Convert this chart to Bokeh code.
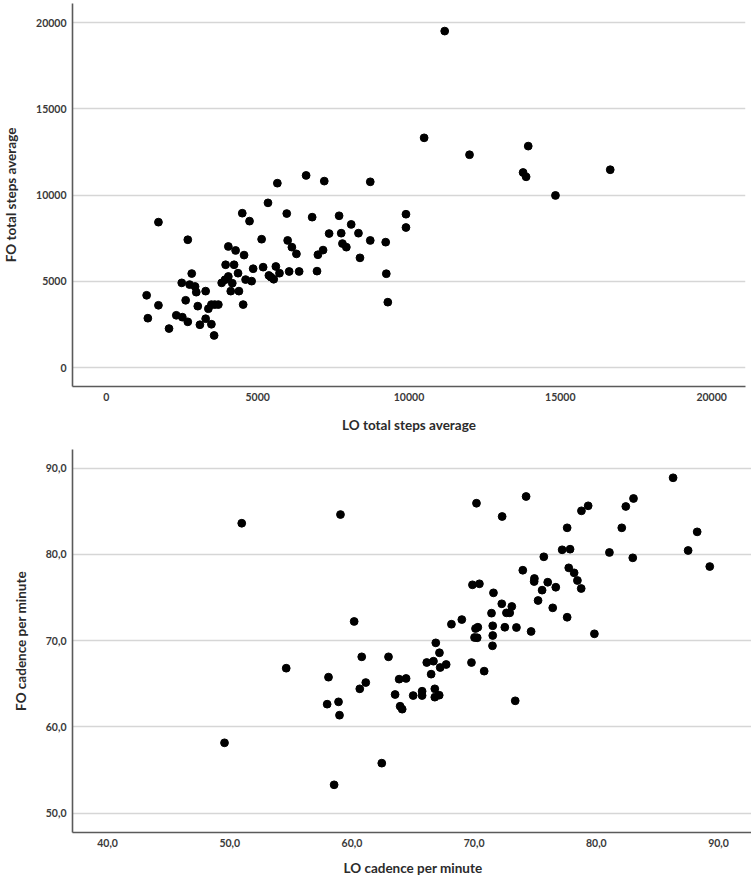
from bokeh.plotting import figure
from bokeh.layouts import column
from bokeh.models import FixedTicker, CustomJSTickFormatter, Range1d
from bokeh.embed import file_html
from bokeh.resources import INLINE

# Total steps per day: LO (x) vs FO (y)
lo_steps = [1330, 1370, 1720, 1720, 2070, 2310, 2510, 2490, 2620, 2690, 2690, 2820,
            2750, 2930, 2970, 3020, 3090, 3280, 3280, 3370, 3470, 3470, 3560, 3580,
            3700, 3810, 3940, 3920, 4030, 4030, 4110, 4160, 4220, 4270, 4350, 4380,
            4490, 4520, 4550, 4600, 4730, 4800, 4850, 5130, 5180, 5340, 5370, 5440,
            5530, 5600, 5650, 5720, 5960, 5990, 6040, 6130, 6280, 6370, 6600, 6800,
            6960, 6990, 7160, 7200, 7360, 7690, 7760, 7800, 7930, 8090, 8330, 8380,
            8720, 8720, 9230, 9250, 9300, 9900, 9900, 10500, 11180, 12000, 13770,
            13870, 13940, 14840, 16650]
fo_steps = [4190, 2860, 8430, 3610, 2260, 3030, 2920, 4910, 3900, 7410, 2650, 5450,
            4810, 4700, 4370, 3560, 2480, 4430, 2830, 3410, 3650, 2510, 1860, 3650,
            3650, 4910, 5960, 5090, 7020, 5280, 4430, 4890, 5960, 6790, 5470, 4430,
            8950, 3650, 6520, 5100, 8490, 5010, 5730, 7440, 5820, 9550, 5340, 5240,
            5120, 5860, 10690, 5470, 8930, 7370, 5570, 6980, 6590, 5570, 11140, 8720,
            5590, 6540, 6810, 10810, 7770, 8800, 7790, 7190, 6980, 8300, 7790, 6360,
            10770, 7370, 7270, 5440, 3790, 8890, 8120, 13320, 19510, 12340, 11310,
            11060, 12840, 9980, 11470]
steps_ticks = [0, 5000, 10000, 15000, 20000]

# Cadence per minute: LO (x) vs FO (y)
lo_cadence = [50.98, 59.06, 60.18, 54.62, 58.08, 60.80, 62.99, 61.13, 60.64, 57.97,
              58.90, 58.98, 49.57, 62.44, 58.54, 63.53, 63.86, 64.43, 63.94, 64.11,
              65.01, 65.74, 65.74, 66.12, 66.67, 66.48, 66.86, 67.16, 67.22, 67.71,
              66.78, 66.78, 67.14, 68.14, 68.99, 69.78, 69.86, 70.43, 70.19, 70.11,
              70.30, 70.03, 70.25, 70.82, 71.42, 71.58, 71.52, 71.52, 71.50, 72.29,
              72.26, 72.64, 72.91, 73.08, 72.51, 73.46, 73.36, 73.98, 74.25, 74.66,
              74.93, 74.91, 75.23, 75.56, 75.70, 76.02, 76.43, 76.68, 77.20, 77.61,
              77.61, 77.74, 77.85, 78.18, 78.45, 78.76, 78.78, 79.33, 79.84, 81.07,
              82.08, 82.41, 82.98, 83.04, 86.28, 87.51, 88.25, 89.28]
fo_cadence = [83.62, 84.63, 72.23, 66.81, 65.77, 68.13, 68.13, 65.15, 64.42, 62.64,
              62.91, 61.36, 58.16, 55.80, 53.29, 63.76, 65.54, 65.62, 62.40, 62.06,
              63.64, 64.14, 63.64, 67.47, 67.62, 66.12, 69.75, 68.60, 66.89, 67.24,
              64.42, 63.45, 63.68, 71.91, 72.45, 67.47, 76.48, 76.60, 85.94, 71.41,
              71.56, 70.37, 70.34, 66.47, 73.19, 75.55, 71.73, 70.60, 69.41, 84.40,
              74.28, 73.23, 73.23, 73.97, 71.56, 71.53, 63.03, 78.17, 86.72, 71.07,
              77.21, 76.86, 74.66, 75.86, 79.73, 76.78, 73.81, 76.20, 80.54, 83.09,
              72.72, 78.45, 80.61, 77.87, 76.98, 76.05, 85.06, 85.64, 70.80, 80.23,
              83.09, 85.56, 79.61, 86.49, 88.89, 80.46, 82.62, 78.60]
cad_x_ticks = [40, 50, 60, 70, 80, 90]
cad_y_ticks = [50, 60, 70, 80, 90]

FONT = "Lato"
TICK_COLOR = "#3a3a3a"
LABEL_COLOR = "#2b2b2b"
GRID_COLOR = "#d6d6d6"
AXIS_COLOR = "#5a5a5a"


def style(p, xlabel, ylabel, xlabel_standoff):
    p.outline_line_color = None
    p.background_fill_color = "white"
    p.border_fill_color = "white"
    p.xgrid.grid_line_color = None
    p.ygrid.grid_line_color = GRID_COLOR
    p.ygrid.grid_line_width = 1.6
    for ax in (p.xaxis[0], p.yaxis[0]):
        ax.axis_line_color = AXIS_COLOR
        ax.axis_line_width = 1.6
        ax.major_tick_line_color = None
        ax.minor_tick_line_color = None
        ax.major_tick_out = 0
        ax.major_tick_in = 0
        ax.major_label_text_font = FONT
        ax.major_label_text_font_style = "bold"
        ax.major_label_text_font_size = "10.5px"
        ax.major_label_text_color = TICK_COLOR
        ax.major_label_standoff = 6
        ax.axis_label_text_font = FONT
        ax.axis_label_text_font_style = "bold"
        ax.axis_label_text_font_size = "13.5px"
        ax.axis_label_text_color = LABEL_COLOR
    p.xaxis.axis_label = xlabel
    p.yaxis.axis_label = ylabel
    p.xaxis.axis_label_standoff = xlabel_standoff
    p.yaxis.axis_label_standoff = 14


# Steps scatter
p1 = figure(frame_width=673, frame_height=383, output_backend="svg",
            toolbar_location=None, min_border_left=70, min_border_right=8,
            min_border_top=3, min_border_bottom=54,
            x_range=Range1d(-1120, 21120), y_range=Range1d(-1100, 21110))
p1.scatter(lo_steps, fo_steps, size=7.8, color="black", line_color="black")
style(p1, "LO total steps average", "FO total steps average", 13)
p1.xaxis.ticker = FixedTicker(ticks=steps_ticks)
p1.yaxis.ticker = FixedTicker(ticks=steps_ticks)

# Cadence scatter, decimal comma labels
comma_fmt = CustomJSTickFormatter(code="return tick.toFixed(1).replace('.', ',');")
p2 = figure(frame_width=681, frame_height=383, output_backend="svg",
            toolbar_location=None, min_border_left=61, min_border_right=9,
            min_border_top=9, min_border_bottom=46,
            x_range=Range1d(37.13, 92.86), y_range=Range1d(47.76, 92.17))
p2.scatter(lo_cadence, fo_cadence, size=7.8, color="black", line_color="black")
style(p2, "LO cadence per minute", "FO cadence per minute", 10)
p2.xaxis.ticker = FixedTicker(ticks=cad_x_ticks)
p2.yaxis.ticker = FixedTicker(ticks=cad_y_ticks)
p2.xaxis.formatter = comma_fmt
p2.yaxis.formatter = comma_fmt

layout = column(p1, p2, spacing=0)
open("out.html", "w").write(file_html(layout, INLINE))
